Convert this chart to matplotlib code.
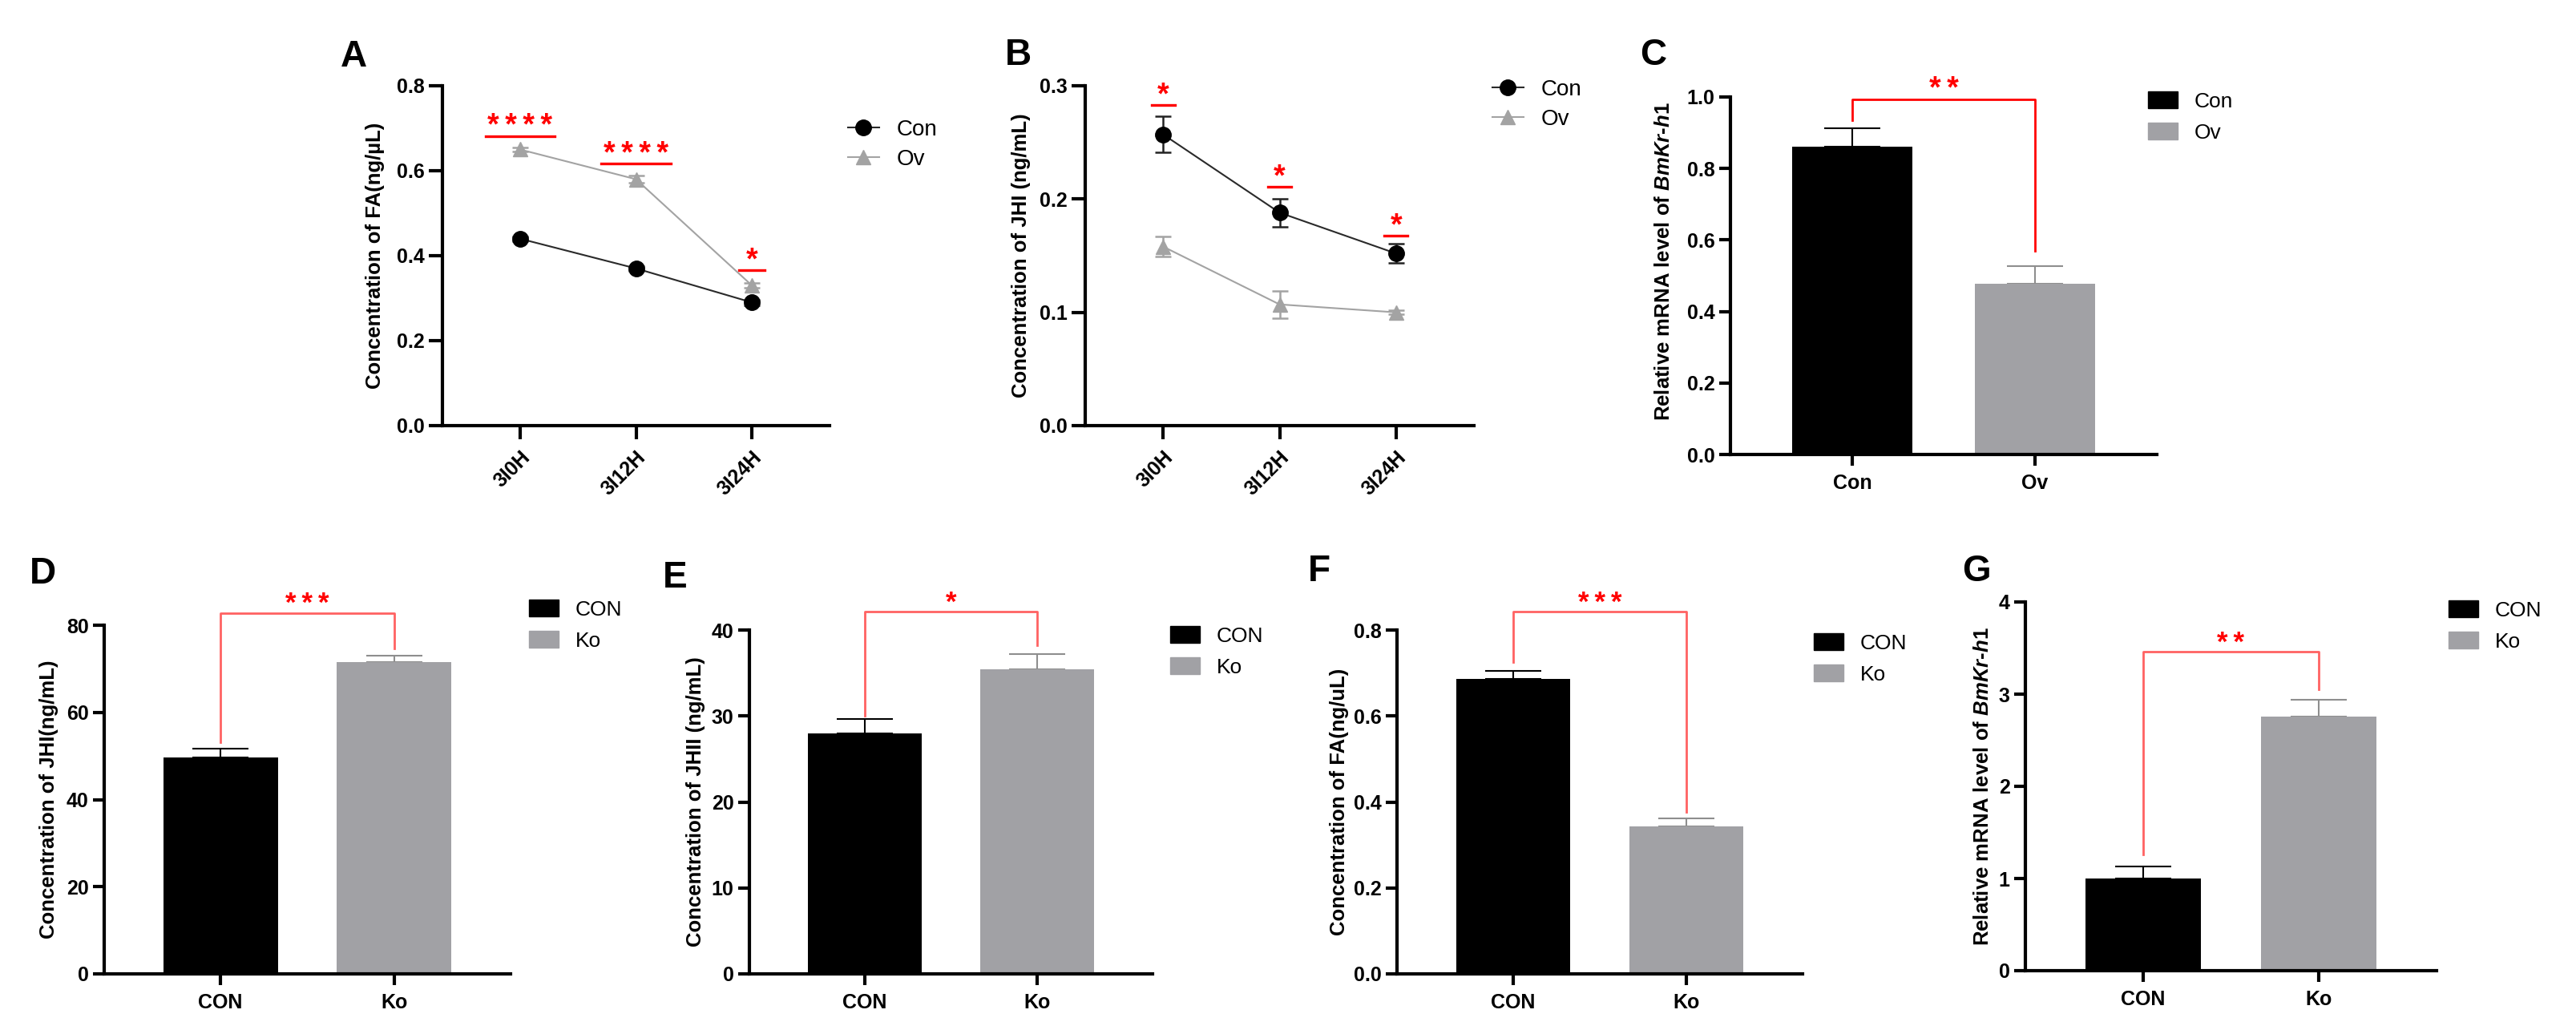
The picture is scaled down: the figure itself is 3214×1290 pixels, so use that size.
import matplotlib
matplotlib.use("Agg")
import matplotlib.pyplot as plt
from matplotlib.patches import Patch

plt.rcParams['font.family'] = ['Liberation Sans', 'DejaVu Sans']
plt.rcParams['mathtext.fontset'] = 'custom'
plt.rcParams['mathtext.it'] = 'Liberation Sans:italic:bold'
plt.rcParams['mathtext.rm'] = 'Liberation Sans:bold'

# ---- data ----
times = ['3I0H', '3I12H', '3I24H']

# A: FA, Con vs Ov
fa_con = [0.44, 0.37, 0.29]
fa_con_err = [0.006, 0.005, 0.007]
fa_ov = [0.65, 0.58, 0.33]
fa_ov_err = [0.005, 0.008, 0.006]
fa_sig = ['****', '****', '*']
fa_sig_y = [0.682, 0.617, 0.366]

# B: JHI, Con vs Ov
jh_con = [0.257, 0.188, 0.152]
jh_con_err = [0.016, 0.0125, 0.0085]
jh_ov = [0.158, 0.107, 0.100]
jh_ov_err = [0.009, 0.012, 0.002]
jh_sig = ['*', '*', '*']
jh_sig_y = [0.283, 0.211, 0.168]

# C: BmKr-h1, Con vs Ov
groups_ov = ['Con', 'Ov']
kr_ov = [0.86, 0.478]
kr_ov_err = [0.053, 0.049]
kr_ov_bracket = [0.935, 0.994, 0.569]   # left end, top, right end
kr_ov_sig = '**'

# D-G: CON vs Ko
groups_ko = ['CON', 'Ko']
jhi_ko = [49.6, 71.5]
jhi_ko_err = [2.0, 1.5]
jhi_ko_bracket = [53.2, 82.8, 74.7]
jhi_ko_sig = '***'

jhiii_ko = [27.95, 35.4]
jhiii_ko_err = [1.7, 1.8]
jhiii_ko_bracket = [30.0, 42.15, 38.2]
jhiii_ko_sig = '*'

fa_ko = [0.686, 0.343]
fa_ko_err = [0.019, 0.018]
fa_ko_bracket = [0.725, 0.843, 0.377]
fa_ko_sig = '***'

kr_ko = [0.997, 2.756]
kr_ko_err = [0.137, 0.187]
kr_ko_bracket = [1.258, 3.46, 3.055]
kr_ko_sig = '**'

# ---- layout ----
W, H = 3214, 1290
fig = plt.figure(figsize=(W / 100, H / 100), dpi=100)

GREY = '#a1a1a5'
RED = '#ff0000'
LRED = '#ff6262'


def box(l, r, t, b):
    return [l / W, 1 - b / H, (r - l) / W, (b - t) / H]


def style(ax, ticklen):
    for s in ['top', 'right']:
        ax.spines[s].set_visible(False)
    for s in ['left', 'bottom']:
        ax.spines[s].set_linewidth(3.0)
    ax.tick_params(width=3.0, length=ticklen, labelsize=18, pad=4)
    for t in ax.get_yticklabels():
        t.set_fontweight('bold')


def stars(ax, x, y, s, size):
    ax.annotate('\u2009'.join(s), xy=(x, y), xytext=(0, 1), textcoords='offset points',
                ha='center', va='baseline', color=RED, fontsize=size,
                fontweight='bold', annotation_clip=False)


def line_panel(pos, con, con_err, ov, ov_err, sig, sig_y, halfw, ylabel, yticks, fmt,
               labx, leg_xy):
    ax = fig.add_axes(box(*pos))
    x = list(range(len(times)))
    ax.errorbar(x, con, yerr=con_err, fmt='none', ecolor='#222222', elinewidth=1.8,
                capsize=7, capthick=1.8, zorder=3)
    ax.errorbar(x, ov, yerr=ov_err, fmt='none', ecolor='#a3a3a3', elinewidth=1.8,
                capsize=7, capthick=1.8, zorder=2)
    ax.plot(x, con, color='#2a2a2a', lw=1.5, marker='o', ms=14, mfc='black',
            mec='black', label='Con', zorder=4)
    ax.plot(x, ov, color='#a3a3a3', lw=1.5, marker='^', ms=13, mfc='#a3a3a3',
            mec='#a3a3a3', label='Ov', zorder=3)
    for i, (s, y) in enumerate(zip(sig, sig_y)):
        h = halfw[i]
        ax.plot([i - h, i + h], [y, y], color=RED, lw=2.4, clip_on=False)
        stars(ax, i, y, s, 27)
    ax.set_xlim(-0.67, 2.67)
    ax.set_ylim(0, yticks[-1])
    ax.set_yticks(yticks, [fmt.format(v) for v in yticks])
    ax.set_xticks(x, times, rotation=45, ha='right', va='top', rotation_mode='anchor',
                  fontweight='bold')
    style(ax, 12)
    ax.tick_params(axis='x', pad=8)
    ax.set_ylabel(ylabel, fontsize=18.5, fontweight='bold')
    ax.yaxis.set_label_coords(labx, 0.5)
    ax.legend(loc='upper left', bbox_to_anchor=(leg_xy[0] / W, 1 - leg_xy[1] / H),
              bbox_transform=fig.transFigure, frameon=False, fontsize=20,
              handlelength=1.4, handletextpad=0.8, labelspacing=0.4,
              borderpad=0, borderaxespad=0)
    return ax


def bar_panel(pos, groups, vals, errs, bracket, sig, ylabel, yticks, fmt, labx, laby,
              leg_xy, bcolor, star_size):
    ax = fig.add_axes(box(*pos))
    cols = ['black', GREY]
    ecols = ['black', '#8e8e8e']
    for i, (g, v, e) in enumerate(zip(groups, vals, errs)):
        ax.bar(i, v, width=0.66, color=cols[i], label=g, zorder=2)
        ax.errorbar(i, v, yerr=[[0], [e]], fmt='none', ecolor=ecols[i], elinewidth=1.5,
                    capsize=25, capthick=1.5, zorder=1)
    ax.plot([0, 0, 1, 1], [bracket[0], bracket[1], bracket[1], bracket[2]],
            color=bcolor, lw=2.0, clip_on=False)
    stars(ax, 0.5, bracket[1], sig, star_size)
    ax.set_xlim(-0.67, 1.67)
    ax.set_ylim(0, yticks[-1])
    ax.set_yticks(yticks, [fmt.format(v) for v in yticks])
    ax.set_xticks([0, 1], groups, fontweight='bold', fontsize=18)
    style(ax, 10)
    ax.tick_params(axis='x', labelsize=18, pad=7)
    ax.set_ylabel(ylabel, fontsize=18.5, fontweight='bold')
    ax.yaxis.set_label_coords(labx, laby)
    handles = [Patch(color=c) for c in cols]
    ax.legend(handles, groups, loc='upper left',
              bbox_to_anchor=(leg_xy[0] / W, 1 - leg_xy[1] / H),
              bbox_transform=fig.transFigure, frameon=False, fontsize=19,
              handlelength=1.4, handleheight=0.85, handletextpad=0.8,
              labelspacing=0.55, borderpad=0, borderaxespad=0)
    return ax


kr_label = 'Relative mRNA level of $\\mathit{BmKr}$-$\\mathit{h1}$'

line_panel((552, 1035, 107, 531), fa_con, fa_con_err, fa_ov, fa_ov_err, fa_sig, fa_sig_y,
           [0.3, 0.3, 0.11], 'Concentration of FA(ng/\u00b5L)', [0, 0.2, 0.4, 0.6, 0.8],
           '{:.1f}', -0.149, (1058, 149))
line_panel((1354, 1839, 107, 531), jh_con, jh_con_err, jh_ov, jh_ov_err, jh_sig, jh_sig_y,
           [0.1, 0.1, 0.1], 'Concentration of JHI (ng/mL)', [0, 0.1, 0.2, 0.3],
           '{:.1f}', -0.14, (1862, 99))
bar_panel((2159, 2691, 121, 567), groups_ov, kr_ov, kr_ov_err, kr_ov_bracket, kr_ov_sig,
          kr_label, [0, 0.2, 0.4, 0.6, 0.8, 1.0], '{:.1f}', -0.133, 0.54, (2680, 114),
          RED, 27)
bar_panel((130, 637, 780, 1215), groups_ko, jhi_ko, jhi_ko_err, jhi_ko_bracket, jhi_ko_sig,
          'Concentration of JHI(ng/mL)', [0, 20, 40, 60, 80], '{:.0f}', -0.112, 0.5,
          (660, 748), LRED, 25)
bar_panel((935, 1438, 786, 1215), groups_ko, jhiii_ko, jhiii_ko_err, jhiii_ko_bracket,
          jhiii_ko_sig, 'Concentration of JHII (ng/mL)', [0, 10, 20, 30, 40], '{:.0f}',
          -0.109, 0.5, (1460, 781), LRED, 25)
bar_panel((1743, 2249, 786, 1215), groups_ko, fa_ko, fa_ko_err, fa_ko_bracket, fa_ko_sig,
          'Concentration of FA(ng/uL)', [0, 0.2, 0.4, 0.6, 0.8], '{:.1f}', -0.119, 0.5,
          (2263, 790), LRED, 25)
bar_panel((2527, 3040, 751, 1211), groups_ko, kr_ko, kr_ko_err, kr_ko_bracket, kr_ko_sig,
          kr_label, [0, 1, 2, 3, 4], '{:.0f}', -0.08, 0.5, (3055, 749), LRED, 25)

for letter, lx, ly in [('A', 425, 83), ('B', 1254, 81), ('C', 2046, 81), ('D', 37, 728),
                       ('E', 827, 733), ('F', 1632, 725), ('G', 2448, 725)]:
    fig.text(lx / W, 1 - ly / H, letter, fontsize=33, fontweight='bold', ha='left',
             va='baseline')

fig.savefig('out.png', dpi=100)
